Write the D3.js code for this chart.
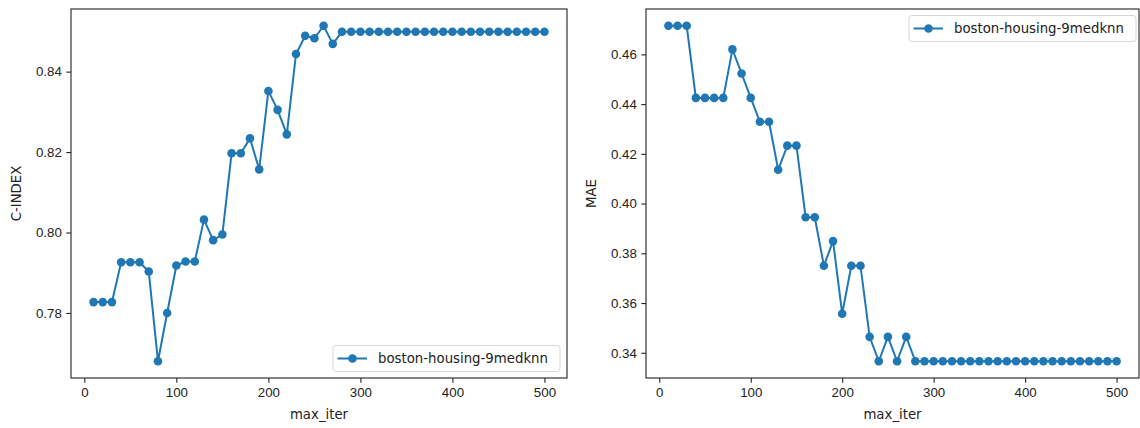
<!DOCTYPE html>
<html><head><meta charset="utf-8">
<script src="https://cdn.jsdelivr.net/npm/d3@7"></script>
<style>
body{margin:0;background:#fff;}
svg{display:block;font-family:"DejaVu Sans",sans-serif;}
.tick text{font-size:13.3px;fill:#222;}
</style></head><body>
<svg id="c" width="1140" height="428"></svg>
<script>
const maxIter = [10,20,30,40,50,60,70,80,90,100,110,120,130,140,150,160,170,180,190,200,
  210,220,230,240,250,260,270,280,290,300,310,320,330,340,350,360,370,380,390,400,
  410,420,430,440,450,460,470,480,490,500];
const cIndex = [0.7827,0.7827,0.7827,0.7926,0.7926,0.7926,0.7903,0.7680,0.7800,0.7918,
  0.7928,0.7928,0.8032,0.7981,0.7995,0.8197,0.8197,0.8234,0.8157,0.8352,
  0.8305,0.8244,0.8444,0.8489,0.8483,0.8514,0.8469,0.8499,0.8499,0.8499,
  0.8499,0.8499,0.8499,0.8499,0.8499,0.8499,0.8499,0.8499,0.8499,0.8499,
  0.8499,0.8499,0.8499,0.8499,0.8499,0.8499,0.8499,0.8499,0.8499,0.8499];
const mae = [0.4715,0.4715,0.4715,0.4425,0.4425,0.4425,0.4425,0.4620,0.4523,0.4425,
  0.4329,0.4329,0.4136,0.4233,0.4233,0.3945,0.3945,0.3750,0.3849,0.3557,
  0.3750,0.3750,0.3464,0.3366,0.3464,0.3366,0.3464,0.3366,0.3366,0.3366,
  0.3366,0.3366,0.3366,0.3366,0.3366,0.3366,0.3366,0.3366,0.3366,0.3366,
  0.3366,0.3366,0.3366,0.3366,0.3366,0.3366,0.3366,0.3366,0.3366,0.3366];
const xTicks = [0,100,200,300,400,500];
const cTicks = [0.78,0.80,0.82,0.84];
const maeTicks = [0.34,0.36,0.38,0.40,0.42,0.44,0.46];
const seriesName = "boston-housing-9medknn";
const color = "#1f77b4";

const svg = d3.select("#c");

function panel(opts){
  const {left,right,top,bottom,yVals,yTicks,yLabel,yLabelX,legendPos} = opts;
  const xExt = d3.extent(maxIter), xm = (xExt[1]-xExt[0])*0.05;
  const yExt = d3.extent(yVals), ym = (yExt[1]-yExt[0])*0.05;
  const x = d3.scaleLinear().domain([xExt[0]-xm, xExt[1]+xm]).range([left,right]);
  const y = d3.scaleLinear().domain([yExt[0]-ym, yExt[1]+ym]).range([bottom,top]);
  const g = svg.append("g");
  const xa = g.append("g").attr("transform",`translate(0,${bottom})`)
    .call(d3.axisBottom(x).tickValues(xTicks).tickFormat(d3.format("d")).tickSize(4.7).tickPadding(4.5));
  const ya = g.append("g").attr("transform",`translate(${left},0)`)
    .call(d3.axisLeft(y).tickValues(yTicks).tickFormat(d3.format(".2f")).tickSize(4.7).tickPadding(4.5));
  [xa,ya].forEach(a=>{a.select(".domain").remove(); a.selectAll(".tick line").attr("stroke","#222").attr("stroke-width",1.1);});
  g.append("rect").attr("x",left).attr("y",top).attr("width",right-left).attr("height",bottom-top)
    .attr("fill","none").attr("stroke","#222").attr("stroke-width",1.1);
  const line = d3.line().x((d,i)=>x(maxIter[i])).y(d=>y(d));
  g.append("path").datum(yVals).attr("d",line).attr("fill","none").attr("stroke",color).attr("stroke-width",2);
  g.selectAll("circle.pt").data(yVals).join("circle").attr("class","pt")
    .attr("cx",(d,i)=>x(maxIter[i])).attr("cy",d=>y(d)).attr("r",4.3).attr("fill",color);
  g.append("text").attr("x",(left+right)/2).attr("y",419).attr("text-anchor","middle")
    .attr("font-size",13.3).attr("fill","#222").text("max_iter");
  g.append("text").attr("transform",`translate(${yLabelX},${(top+bottom)/2}) rotate(-90)`)
    .attr("text-anchor","middle").attr("font-size",13.3).attr("fill","#222").text(yLabel);
  // legend
  const lw = 227, lh = 26;
  const lx = legendPos==="lr" ? right-lw-7 : right-lw-3;
  const ly = legendPos==="lr" ? bottom-lh-6.5 : top+6.5;
  const lg = g.append("g").attr("transform",`translate(${lx},${ly})`);
  lg.append("rect").attr("width",lw).attr("height",lh).attr("rx",3).attr("fill","#fff")
    .attr("fill-opacity",0.8).attr("stroke","#d6d6d6").attr("stroke-width",1);
  lg.append("line").attr("x1",4.5).attr("x2",34).attr("y1",lh/2).attr("y2",lh/2).attr("stroke",color).attr("stroke-width",2);
  lg.append("circle").attr("cx",19.5).attr("cy",lh/2).attr("r",4.3).attr("fill",color);
  lg.append("text").attr("x",45).attr("y",lh/2+4.7).attr("font-size",13.3).attr("fill","#222").text(seriesName);
}

panel({left:71,right:567,top:9,bottom:378,yVals:cIndex,yTicks:cTicks,yLabel:"C-INDEX",yLabelX:21,legendPos:"lr"});
panel({left:646,right:1139,top:9,bottom:378,yVals:mae,yTicks:maeTicks,yLabel:"MAE",yLabelX:596,legendPos:"ur"});
</script></body></html>
